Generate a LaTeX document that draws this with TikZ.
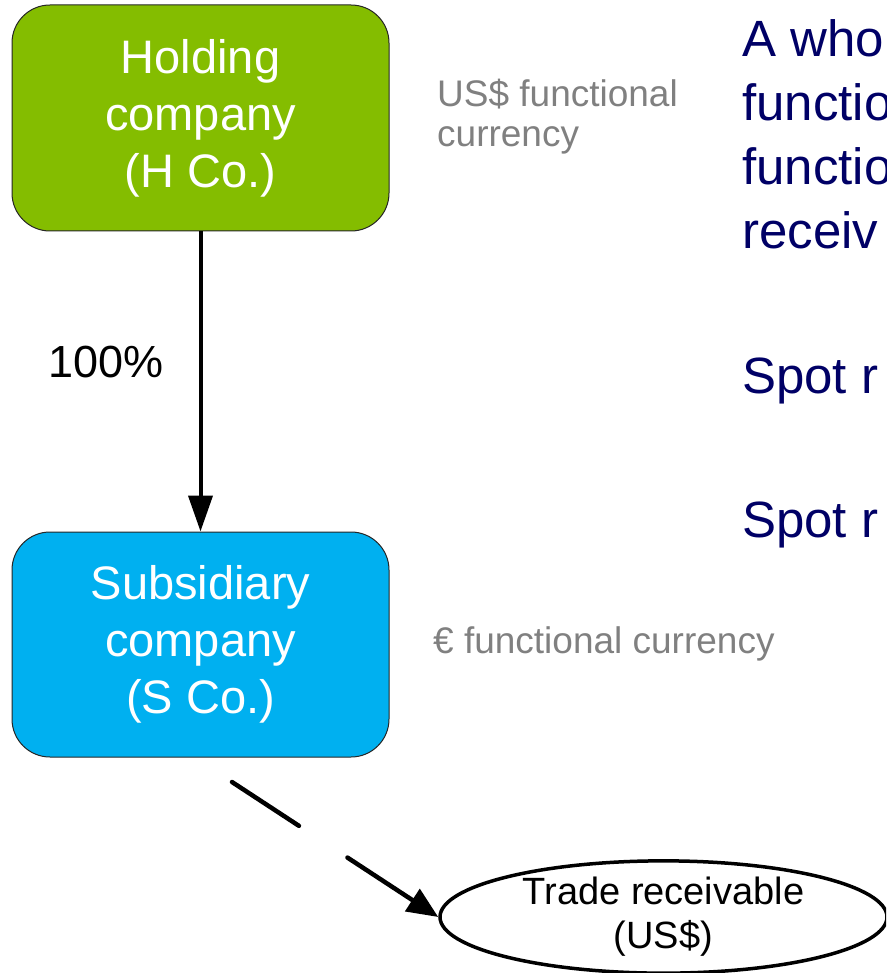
\documentclass[tikz,border=0pt]{standalone}
\usepackage{fontspec}
\setmainfont{Liberation Sans}
\usetikzlibrary{arrows.meta,shapes.geometric}
\definecolor{hgreen}{HTML}{84BD00}
\definecolor{sblue}{HTML}{00B0F0}
\definecolor{notegray}{HTML}{808080}
\definecolor{navytext}{HTML}{000066}

\begin{document}
\begin{tikzpicture}[x=1pt,y=-1pt,
  company/.style={draw=black!85, line width=1pt, rounded corners=38pt,
    minimum width=377pt, minimum height=226pt, inner sep=0pt,
    text=white, align=center, font=\fontsize{47}{57}\selectfont},
  note/.style={text=notegray, anchor=base west, inner sep=0pt,
    font=\fontsize{37}{40}\selectfont},
  navy/.style={text=navytext, anchor=base west, inner sep=0pt,
    font=\fontsize{51}{64}\selectfont},
  owns/.style={line width=4pt, -{Triangle[length=36pt,width=24pt]}},
  holds/.style={line width=4.5pt, line cap=round, dash pattern=on 80pt off 58pt,
    -{Triangle[length=31pt,width=26pt]}},
  asset/.style={ellipse, draw, line width=3.5pt, minimum width=447pt,
    minimum height=108pt, inner sep=0pt, align=center,
    font=\fontsize{38}{44}\selectfont}]
\useasboundingbox (0,0) rectangle (886,973);
\clip (0,0) rectangle (886,973);

% the two companies
\node[company, fill=hgreen] (hold) at (200.5,118) {Holding\\company\\(H Co.)};
\node[company, fill=sblue, minimum height=225pt] (sub) at (200.5,644.5) {Subsidiary\\company\\(S Co.)};

% ownership link
\draw[owns] (hold.south) -- (sub.north);
\node[anchor=base west, inner sep=0pt, font=\fontsize{45}{50}\selectfont] (pct) at (48,377) {100\%};

% functional currency notes
\node[note] (husd1) at (437,107) {US\$ functional};
\node[note] (husd2) at (437,147) {currency};
\node[note] (seur) at (433,653) {€ functional currency};

% the receivable held by S Co.
\node[asset] (tr) at (663.5,917) {Trade receivable\\(US\$)};
\coordinate (dstart) at (232,782);
\draw[holds] (dstart) -- (tr.west);

% explanatory text on the right
\node[navy] (t1) at (742,57) {A who};
\node[navy] (t2) at (742,121) {functio};
\node[navy] (t3) at (742,185) {functio};
\node[navy] (t4) at (742,249) {receiv};
\node[navy] (t5) at (742,393) {Spot r};
\node[navy] (t6) at (742,537) {Spot r};
\end{tikzpicture}
\end{document}
